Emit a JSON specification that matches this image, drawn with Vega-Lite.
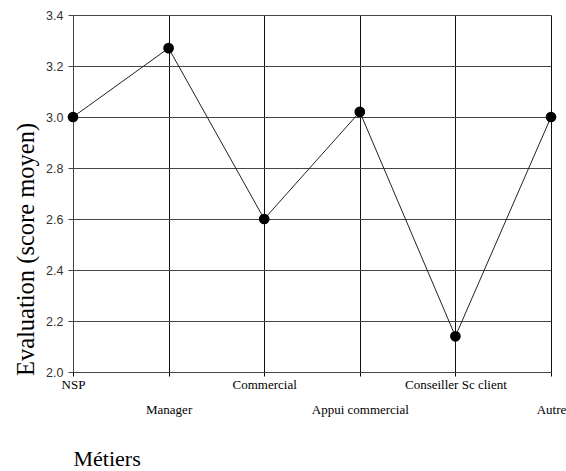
{
  "$schema": "https://vega.github.io/schema/vega-lite/v6.json",
  "autosize": "none",
  "padding": {"left": 73, "top": 15, "right": 15, "bottom": 99},
  "width": 478,
  "height": 357,
  "background": "white",
  "config": {"view": {"stroke": null}},
  "data": {
    "values": [
      {"metier": "NSP", "score": 3.0},
      {"metier": "Manager", "score": 3.27},
      {"metier": "Commercial", "score": 2.6},
      {"metier": "Appui commercial", "score": 3.02},
      {"metier": "Conseiller Sc client", "score": 2.14},
      {"metier": "Autre", "score": 3.0}
    ]
  },
  "encoding": {
    "x": {
      "field": "metier",
      "type": "nominal",
      "sort": null,
      "scale": {"type": "point", "padding": 0},
      "axis": {
        "title": "Métiers",
        "titleFont": "Liberation Serif",
        "titleFontSize": 22,
        "titleFontWeight": "normal",
        "titleColor": "#000",
        "titleAnchor": "start",
        "titleAlign": "left",
        "titleBaseline": "alphabetic",
        "titleX": 0,
        "titleY": 93,
        "labelFont": "Liberation Serif",
        "labelFontSize": 13,
        "labelColor": "#000",
        "labelAngle": 0,
        "labelBaseline": "top",
        "labelAlign": "center",
        "labelOverlap": false,
        "labelPadding": {"condition": {"test": "indexof(['Manager','Appui commercial','Autre'], datum.value) >= 0", "value": 27}, "value": 2},
        "tickSize": 4,
        "tickColor": "#000",
        "domainColor": "#444",
        "grid": true,
        "gridColor": "#111",
        "gridOpacity": 1,
        "gridWidth": 1
      }
    },
    "y": {
      "field": "score",
      "type": "quantitative",
      "scale": {"domain": [2.0, 3.4], "nice": false, "zero": false},
      "axis": {
        "title": "Evaluation (score moyen)",
        "titleFont": "Liberation Serif",
        "titleFontSize": 24.5,
        "titleFontWeight": "normal",
        "titleColor": "#000",
        "titleAngle": 270,
        "titleAlign": "center",
        "titleBaseline": "alphabetic",
        "titleX": -40,
        "titleY": 234,
        "values": [2.0, 2.2, 2.4, 2.6, 2.8, 3.0, 3.2, 3.4],
        "format": ".1f",
        "labelFont": "Liberation Sans",
        "labelFontSize": 12.5,
        "labelColor": "#333",
        "labelPadding": 5,
        "tickSize": 5,
        "tickColor": "#444",
        "domainColor": "#444",
        "grid": true,
        "gridColor": "#444",
        "gridOpacity": 1,
        "gridWidth": 1
      }
    }
  },
  "layer": [
    {"mark": {"type": "line", "color": "#222", "strokeWidth": 1}},
    {"mark": {"type": "point", "filled": true, "color": "#000", "opacity": 1, "size": 115}}
  ]
}
